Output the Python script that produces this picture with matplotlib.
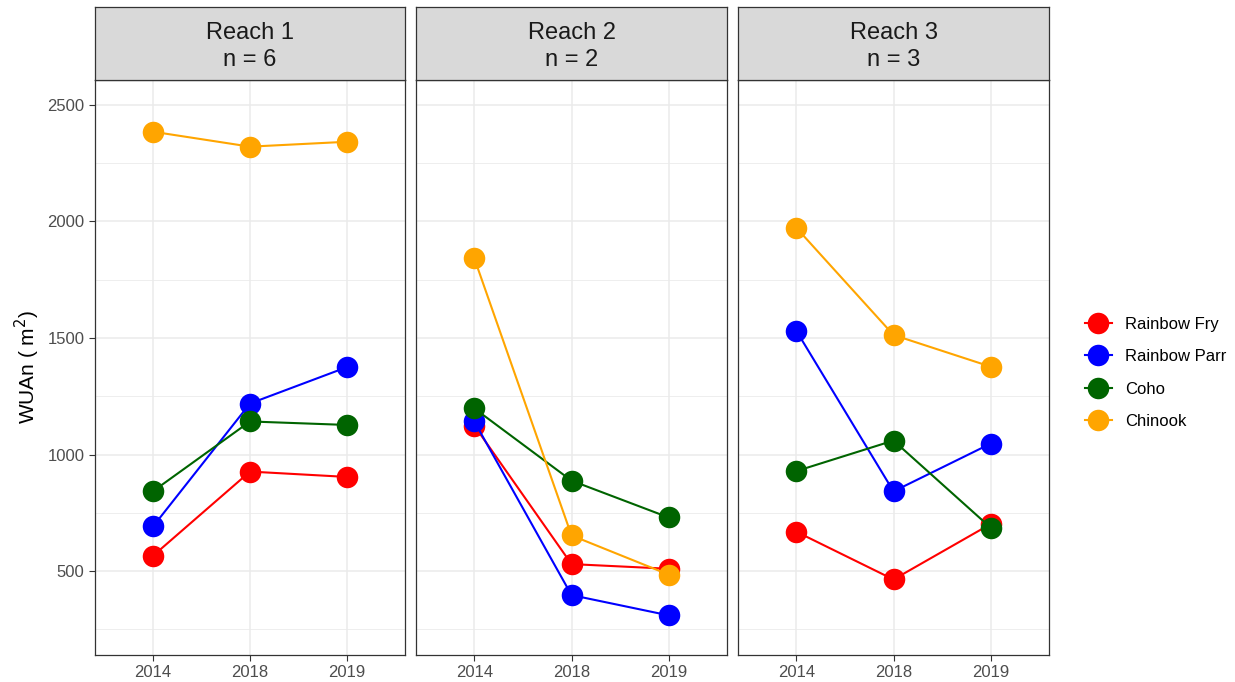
import matplotlib
matplotlib.use("Agg")
import matplotlib.pyplot as plt
import numpy as np

plt.rcParams['font.family'] = ['Liberation Sans', 'DejaVu Sans']

years = ["2014", "2018", "2019"]
reaches = ["Reach 1\nn = 6", "Reach 2\nn = 2", "Reach 3\nn = 3"]
species = ["Rainbow Fry", "Rainbow Parr", "Coho", "Chinook"]
colors = ["#FF0000", "#0000FF", "#006400", "#FFA500"]

# WUAn values per reach, rows follow species order
reach1 = [[566, 927, 904],
          [692, 1219, 1375],
          [843, 1142, 1127],
          [2385, 2321, 2342]]
reach2 = [[1124, 530, 510],
          [1142, 397, 310],
          [1198, 888, 730],
          [1842, 653, 485]]
reach3 = [[669, 464, 702],
          [1531, 842, 1047],
          [929, 1060, 686],
          [1973, 1513, 1377]]
all_data = [reach1, reach2, reach3]

W, H = 1235, 682
fig = plt.figure(figsize=(W / 100, H / 100), dpi=100)

panel_x = [(95, 405), (416, 727), (738, 1049)]
top, bottom, strip_top = 80, 655, 7
x = np.arange(1, 4)

axes = []
for i, (x0, x1) in enumerate(panel_x):
    ax = fig.add_axes([x0 / W, 1 - bottom / H, (x1 - x0) / W, (bottom - top) / H])
    axes.append(ax)
    data = all_data[i]
    for j, sp in enumerate(species):
        ax.plot(x, data[j], color=colors[j], lw=1.5, marker="o", ms=15.5,
                mec="none", label=sp, zorder=3)
    ax.set_xlim(0.4, 3.6)
    ax.set_ylim(140, 2607)
    ax.set_xticks(x)
    ax.set_xticklabels(years)
    ax.set_yticks([500, 1000, 1500, 2000, 2500])
    ax.set_yticks([250, 750, 1250, 1750, 2250], minor=True)
    ax.grid(True, which="major", color="#EBEBEB", lw=1.1, zorder=0)
    ax.grid(True, which="minor", axis="y", color="#EBEBEB", lw=0.6, zorder=0)
    ax.tick_params(which="major", length=4, color="#333333", labelcolor="#4D4D4D",
                   labelsize=12, width=0.8)
    ax.tick_params(which="minor", length=0)
    for s in ax.spines.values():
        s.set_color("#333333")
        s.set_linewidth(0.9)
    if i > 0:
        ax.tick_params(axis="y", which="both", left=False, labelleft=False)
    # strip
    sax = fig.add_axes([x0 / W, 1 - top / H, (x1 - x0) / W, (top - strip_top) / H])
    sax.set_facecolor("#D9D9D9")
    sax.set_xticks([])
    sax.set_yticks([])
    for s in sax.spines.values():
        s.set_color("#333333")
        s.set_linewidth(0.9)
    sax.text(0.5, 0.46, reaches[i], ha="center", va="center", fontsize=17,
             color="#1A1A1A", linespacing=1.3, transform=sax.transAxes,
             multialignment="center")

axes[0].set_ylabel("WUAn ( m$^2$)", fontsize=15, labelpad=4)

handles, labels = axes[0].get_legend_handles_labels()
fig.legend(handles, labels, loc="center left", bbox_to_anchor=(1070 / W, 1 - 373 / H),
           frameon=False, fontsize=12, handlelength=1.6, labelspacing=1.05,
           handletextpad=0.8)

fig.savefig("out.png", dpi=100)
